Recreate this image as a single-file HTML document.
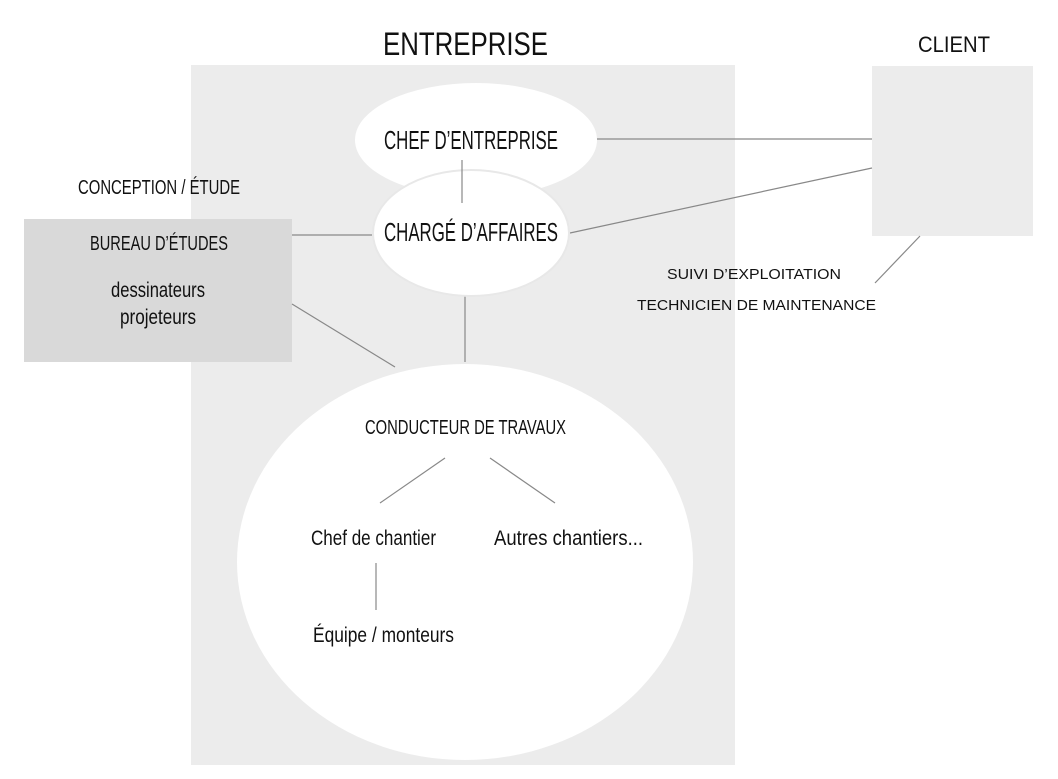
<!DOCTYPE html>
<html><head><meta charset="utf-8"><style>html,body{margin:0;padding:0;background:#fff}svg{display:block}</style></head>
<body>
<svg width="1058" height="779" viewBox="0 0 1058 779" xmlns="http://www.w3.org/2000/svg" font-family="Liberation Sans, sans-serif" fill="#111">
<rect x="191" y="65" width="544" height="700" fill="#ececec"/>
<rect x="872" y="66" width="161" height="170" fill="#ececec"/>
<rect x="24" y="219" width="268" height="143" fill="#d9d9d9"/>
<g stroke="#888" stroke-width="1.2" fill="none">
<line x1="597" y1="139" x2="872" y2="139"/>
<line x1="570" y1="233" x2="872" y2="168"/>
<line x1="292" y1="235" x2="372" y2="235"/>
<line x1="292" y1="304" x2="395" y2="367"/>
<line x1="465" y1="295" x2="465" y2="362"/>
<line x1="920" y1="236" x2="875" y2="283"/>
</g>
<ellipse cx="476" cy="140" rx="121" ry="57" fill="#fff"/>
<ellipse cx="471" cy="233" rx="98" ry="63" fill="#fff" stroke="#e8e8e8" stroke-width="2"/>
<ellipse cx="465" cy="562" rx="228" ry="198" fill="#fff"/>
<g stroke="#888" stroke-width="1.2">
<line x1="462" y1="160" x2="462" y2="203"/>
<line x1="445" y1="458" x2="380" y2="503"/>
<line x1="490" y1="458" x2="555" y2="503"/>
<line x1="376" y1="563" x2="376" y2="610"/>
</g>
<text x="383" y="55" font-size="32" textLength="165" lengthAdjust="spacingAndGlyphs">ENTREPRISE</text>
<text x="918" y="52" font-size="22" textLength="72" lengthAdjust="spacingAndGlyphs">CLIENT</text>
<text x="384" y="149" font-size="26" textLength="174" lengthAdjust="spacingAndGlyphs">CHEF D’ENTREPRISE</text>
<text x="384" y="241" font-size="26" textLength="174" lengthAdjust="spacingAndGlyphs">CHARGÉ D’AFFAIRES</text>
<text x="78" y="194" font-size="20" textLength="162" lengthAdjust="spacingAndGlyphs">CONCEPTION / ÉTUDE</text>
<text x="90" y="250" font-size="20" textLength="138" lengthAdjust="spacingAndGlyphs">BUREAU D’ÉTUDES</text>
<text x="111" y="297" font-size="21" textLength="94" lengthAdjust="spacingAndGlyphs">dessinateurs</text>
<text x="120" y="324" font-size="21" textLength="76" lengthAdjust="spacingAndGlyphs">projeteurs</text>
<text x="667" y="279" font-size="15" textLength="174" lengthAdjust="spacingAndGlyphs">SUIVI D’EXPLOITATION</text>
<text x="637" y="310" font-size="15" textLength="239" lengthAdjust="spacingAndGlyphs">TECHNICIEN DE MAINTENANCE</text>
<text x="365" y="434" font-size="20" textLength="201" lengthAdjust="spacingAndGlyphs">CONDUCTEUR DE TRAVAUX</text>
<text x="311" y="545" font-size="21" textLength="125" lengthAdjust="spacingAndGlyphs">Chef de chantier</text>
<text x="494" y="545" font-size="21" textLength="149" lengthAdjust="spacingAndGlyphs">Autres chantiers...</text>
<text x="313" y="642" font-size="21" textLength="141" lengthAdjust="spacingAndGlyphs">Équipe / monteurs</text>
</svg>
</body></html>
